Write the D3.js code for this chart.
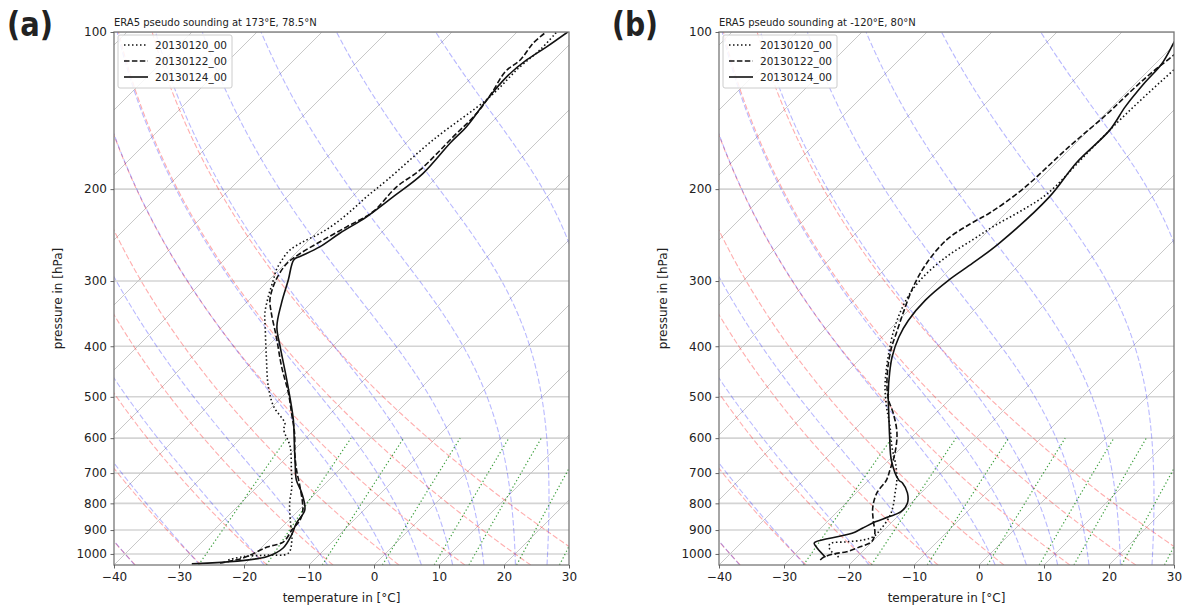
<!DOCTYPE html>
<html>
<head>
<meta charset="utf-8">
<script src="https://cdn.jsdelivr.net/npm/d3@7"></script>
<style>
  body { margin: 0; background: #fff; }
  text { font-family: "DejaVu Sans", sans-serif; fill: #222; }
</style>
</head>
<body>
<svg id="chart" width="1185" height="609"></svg>
<script>
// ---- data (pressure in hPa, temperature in degC) ----
const presA20 = [1027, 1012, 1005, 997, 940, 861, 799, 743, 691, 623, 578, 562, 522, 478, 419, 367, 346, 322, 299, 286, 273, 262, 252, 243, 233, 219, 207, 192, 161, 133, 117, 108, 100];
const tempA20 = [-23.2, -21.4, -18.0, -15.0, -16.5, -19.8, -22.5, -24.7, -27.3, -31.1, -34.7, -35.5, -39.8, -43.7, -48.6, -53.4, -55.5, -57.5, -59.3, -60.4, -61.1, -61.4, -60.6, -59.3, -58.5, -58.0, -57.8, -57.2, -56.3, -54.2, -54.2, -53.7, -53.9];

const presA22 = [1041, 1018, 970, 949, 900, 861, 824, 744, 691, 641, 587, 538, 492, 438, 384, 346, 326, 308, 292, 277, 266, 252, 236, 221, 198, 184, 159, 143, 131, 119, 113, 105, 100];
const tempA22 = [-24.0, -21.2, -19.2, -17.5, -18.0, -18.3, -19.4, -23.4, -26.5, -29.4, -32.5, -36.0, -39.6, -44.7, -50.1, -54.5, -56.8, -58.3, -59.3, -59.8, -59.3, -58.0, -56.2, -54.5, -54.7, -53.7, -53.7, -53.7, -54.5, -55.7, -55.2, -55.8, -55.5];

const presA24 = [1045, 1012, 974, 920, 872, 824, 764, 722, 670, 605, 554, 464, 401, 367, 331, 299, 273, 269, 258, 243, 226, 207, 187, 163, 152, 135, 122, 113, 107, 100];
const tempA24 = [-28.2, -17.8, -16.6, -17.3, -18.4, -19.1, -22.2, -25.0, -27.8, -31.5, -34.7, -41.9, -48.0, -51.6, -54.5, -57.0, -59.3, -58.8, -57.3, -56.3, -54.7, -53.7, -52.7, -53.2, -53.2, -54.2, -54.7, -54.2, -53.2, -52.2];

const presB20 = [1015, 1005, 983, 957, 948, 940, 926, 900, 849, 812, 764, 722, 682, 623, 570, 522, 478, 438, 412, 379, 346, 317, 294, 269, 250, 235, 220, 204, 173, 149, 133, 118, 100];
const tempB20 = [-22.8, -23.4, -25.2, -26.2, -23.9, -21.6, -20.6, -20.6, -21.2, -22.2, -24.0, -25.7, -27.8, -31.6, -35.0, -38.6, -41.9, -44.7, -46.5, -48.8, -50.9, -52.4, -52.9, -52.4, -51.0, -49.8, -48.0, -46.6, -46.7, -46.8, -46.6, -46.2, -45.5];

const presB22 = [1027, 1015, 1000, 990, 969, 947, 913, 861, 812, 764, 722, 691, 642, 587, 538, 507, 478, 438, 401, 379, 346, 308, 277, 250, 233, 222, 200, 166, 144, 129, 120, 111, 100];
const tempB22 = [-25.2, -25.1, -24.1, -22.4, -21.1, -20.1, -20.9, -23.2, -25.3, -26.8, -27.3, -28.3, -30.1, -32.9, -36.5, -39.3, -41.6, -44.5, -47.0, -48.3, -50.4, -52.9, -54.5, -55.0, -53.8, -52.5, -51.1, -50.5, -49.7, -49.5, -49.2, -48.5, -48.0];

const presB24 = [1015, 954, 948, 913, 893, 868, 849, 830, 800, 764, 731, 722, 663, 596, 538, 492, 450, 419, 384, 357, 326, 299, 277, 254, 207, 178, 154, 139, 125, 115, 104, 100];
const tempB24 = [-24.8, -28.7, -28.7, -24.4, -23.6, -22.6, -21.3, -20.2, -20.5, -22.1, -24.4, -25.4, -29.5, -33.5, -37.2, -40.4, -43.3, -45.4, -47.4, -48.5, -49.0, -48.5, -47.4, -46.4, -45.8, -46.9, -46.8, -48.0, -48.7, -49.0, -50.5, -51.0];

const seriesNames = ["20130120_00", "20130122_00", "20130124_00"];
const pressureTicks = [100, 200, 300, 400, 500, 600, 700, 800, 900, 1000];
const tempTicks = [-40, -30, -20, -10, 0, 10, 20, 30];

// background reference lines (starting temperatures at 1000 hPa, mixing ratios in kg/kg)
const dryStart = [-40, -30, -20, -10, 0, 10, 20, 30];
const moistStart = [-40, -30, -20, -10, 0, 5, 10, 15, 20, 25, 30];
const mixRatios = [0.0004, 0.001, 0.002, 0.004, 0.007, 0.01, 0.016, 0.024, 0.032];

// ---- layout ----
const W = 455, H = 533, plotTop = 32;
const panels = [
  { left: 114, label: "(a)", labelX: 7, title: "ERA5 pseudo sounding at 173°E, 78.5°N",
    series: [[presA20, tempA20], [presA22, tempA22], [presA24, tempA24]] },
  { left: 719, label: "(b)", labelX: 612, title: "ERA5 pseudo sounding at -120°E, 80°N",
    series: [[presB20, tempB20], [presB22, tempB22], [presB24, tempB24]] }
];
const dashes = ["1.5,2.5", "5.5,2.4", null];

// ---- thermodynamics ----
const Rd = 287.04749, Cp = 1004.6662, Lv = 2.50084e6, eps = 0.6219569;
const kappa = Rd / Cp;

function satMix(p, t) {
  const es = 6.112 * Math.exp(17.67 * (t - 273.15) / (t - 29.65));
  return eps * es / (p - es);
}
function dTdp(p, t) {
  const rs = satMix(p, t);
  return (Rd * t + Lv * rs) / (Cp + Lv * Lv * rs * eps / (Rd * t * t)) / p;
}
function rk4(p, t, h) {
  const k1 = dTdp(p, t);
  const k2 = dTdp(p + h / 2, t + h / 2 * k1);
  const k3 = dTdp(p + h / 2, t + h / 2 * k2);
  const k4 = dTdp(p + h, t + h * k3);
  return t + h / 6 * (k1 + 2 * k2 + 2 * k3 + k4);
}
function moistLine(t0) {
  const down = [];
  let tt = t0 + 273.15;
  for (let p = 1000; p <= 1050; p += 5) { down.push([p, tt - 273.15]); tt = rk4(p, tt, 5); }
  const up = [];
  tt = t0 + 273.15;
  for (let p = 1000; p >= 100; p -= 5) { up.push([p, tt - 273.15]); tt = rk4(p, tt, -5); }
  return down.reverse().concat(up.slice(1));
}
function dryLine(t0) {
  return d3.range(1050, 99, -10).map(p => [p, (t0 + 273.15) * Math.pow(p / 1000, kappa) - 273.15]);
}
function mixLine(w) {
  return d3.range(1050, 599, -10).map(p => {
    const e = p * w / (eps + w);
    const v = Math.log(e / 6.112);
    return [p, 243.5 * v / (17.67 - v)];
  });
}

// ---- drawing ----
const svg = d3.select("#chart");
const x = d3.scaleLinear().domain([-40, 30]).range([0, W]);
const y = d3.scaleLog().domain([1050, 100]).range([H, 0]);
const sx = (t, p) => x(t) + (H - y(p));   // 45 degree skew

const skewLine = d3.line().x(d => sx(d[1], d[0])).y(d => y(d[0]));
const dataLine = d3.line().x(d => sx(d[1], d[0])).y(d => y(d[0])).curve(d3.curveCatmullRom.alpha(0.5));

panels.forEach((pan, i) => {
  svg.append("defs").append("clipPath").attr("id", "clip" + i)
    .append("rect").attr("width", W).attr("height", H);

  const g = svg.append("g").attr("transform", `translate(${pan.left},${plotTop})`);
  const plot = g.append("g").attr("clip-path", `url(#clip${i})`);

  // horizontal pressure grid
  plot.selectAll(".hgrid").data(pressureTicks).join("line")
    .attr("x1", 0).attr("x2", W)
    .attr("y1", d => y(d)).attr("y2", d => y(d))
    .attr("stroke", "#d4d4d4").attr("stroke-width", 1.6);

  // skewed isotherms
  plot.selectAll(".iso").data(d3.range(-160, 40, 10)).join("line")
    .attr("x1", d => sx(d, 1050)).attr("y1", y(1050))
    .attr("x2", d => sx(d, 100)).attr("y2", y(100))
    .attr("stroke", "#c2c2c2").attr("stroke-width", 0.9);

  // dry adiabats
  plot.selectAll(".dry").data(dryStart.map(dryLine)).join("path")
    .attr("d", skewLine).attr("fill", "none")
    .attr("stroke", "#ff0000").attr("stroke-opacity", 0.32)
    .attr("stroke-width", 1.1).attr("stroke-dasharray", "5.5,2.4");

  // moist adiabats
  plot.selectAll(".moist").data(moistStart.map(moistLine)).join("path")
    .attr("d", skewLine).attr("fill", "none")
    .attr("stroke", "#0000ff").attr("stroke-opacity", 0.28)
    .attr("stroke-width", 1.1).attr("stroke-dasharray", "5.5,2.4");

  // mixing ratio lines
  plot.selectAll(".mix").data(mixRatios.map(mixLine)).join("path")
    .attr("d", skewLine).attr("fill", "none")
    .attr("stroke", "#008000").attr("stroke-opacity", 0.75)
    .attr("stroke-width", 1.2).attr("stroke-dasharray", "1.3,2.4");

  // soundings
  pan.series.forEach((s, k) => {
    const pts = s[0].map((p, j) => [p, s[1][j]]);
    plot.append("path").datum(pts)
      .attr("d", dataLine).attr("fill", "none")
      .attr("stroke", "#111").attr("stroke-width", 1.6)
      .attr("stroke-dasharray", dashes[k]);
  });

  // frame
  g.append("rect").attr("width", W).attr("height", H)
    .attr("fill", "none").attr("stroke", "#777").attr("stroke-width", 1.3);

  // axes
  const yAxis = g.append("g").call(d3.axisLeft(y).tickValues(pressureTicks).tickFormat(d3.format("d")).tickSize(3.5).tickPadding(3.5));
  const xAxis = g.append("g").attr("transform", `translate(0,${H})`)
    .call(d3.axisBottom(x).tickValues(tempTicks).tickFormat(d => d < 0 ? "\u2212" + Math.abs(d) : d).tickSize(3.5).tickPadding(3.5));
  [yAxis, xAxis].forEach(a => {
    a.select(".domain").remove();
    a.selectAll(".tick line").attr("stroke", "#555").attr("stroke-width", 0.9);
    a.selectAll("text").attr("font-size", 12).attr("fill", "#222")
      .attr("font-family", "DejaVu Sans, sans-serif");
  });

  // axis titles
  g.append("text").attr("transform", `translate(-52,${H / 2}) rotate(-90)`)
    .attr("text-anchor", "middle").attr("font-size", 12).text("pressure in [hPa]");
  g.append("text").attr("x", W / 2).attr("y", H + 37)
    .attr("text-anchor", "middle").attr("font-size", 12).text("temperature in [°C]");

  // plot title
  g.append("text").attr("x", 0).attr("y", -6).attr("font-size", 10).text(pan.title);

  // legend
  const leg = g.append("g").attr("transform", "translate(4,3)");
  leg.append("rect").attr("width", 114).attr("height", 53).attr("rx", 2)
    .attr("fill", "#fff").attr("fill-opacity", 0.85).attr("stroke", "#ccc").attr("stroke-width", 1);
  seriesNames.forEach((name, k) => {
    const yy = 10 + k * 16;
    leg.append("line").attr("x1", 6).attr("x2", 30).attr("y1", yy).attr("y2", yy)
      .attr("stroke", "#111").attr("stroke-width", 1.6).attr("stroke-dasharray", dashes[k]);
    leg.append("text").attr("x", 37).attr("y", yy + 4).attr("font-size", 10.5).text(name);
  });

  // panel label
  svg.append("text").attr("x", pan.labelX).attr("y", 36)
    .attr("font-family", "Liberation Sans, Arial, sans-serif").attr("font-weight", "bold")
    .attr("font-size", 34).attr("textLength", 46).attr("lengthAdjust", "spacingAndGlyphs")
    .attr("fill", "#000").text(pan.label);
});
</script>
</body>
</html>
